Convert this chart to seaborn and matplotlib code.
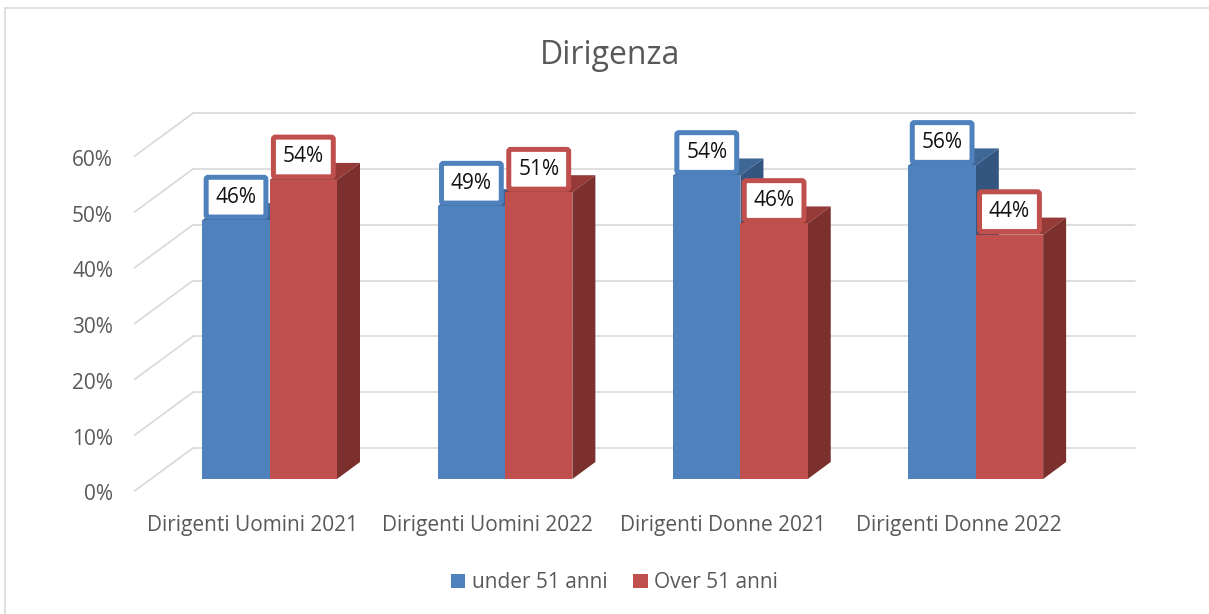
import matplotlib
matplotlib.use("Agg")
import matplotlib.pyplot as plt
import pandas as pd
import seaborn as sns
from matplotlib.lines import Line2D
from matplotlib.patches import Polygon
from matplotlib.transforms import Affine2D

categories = [
    "Dirigenti Uomini 2021",
    "Dirigenti Uomini 2022",
    "Dirigenti Donne 2021",
    "Dirigenti Donne 2022",
]
series_names = ["under 51 anni", "Over 51 anni"]
under_51 = [46.4, 48.9, 54.4, 56.2]
over_51 = [53.6, 51.4, 45.8, 43.8]
y_ticks = [0, 10, 20, 30, 40, 50, 60]

FRONT = {"under 51 anni": "#4f81bd", "Over 51 anni": "#c0504d"}
TOP = {"under 51 anni": "#3f6796", "Over 51 anni": "#953a37"}
SIDE = {"under 51 anni": "#335680", "Over 51 anni": "#7b302e"}
GRID = "#d9d9d9"
TEXT = "#595959"
W, H = 1209, 614
BAR_DX, BAR_DY = 23, 17
WALL_DX, WALL_DY = 41, 31
FLOOR_DX, FLOOR_DY = -17.5, -12


def draw_walls(ax):
    back = ax.transData + Affine2D().translate(WALL_DX, WALL_DY)
    for v in y_ticks:
        ax.plot([-0.5, 3.5], [v, v], color=GRID, lw=1.2, transform=back, clip_on=False, zorder=0.5)
        x0, y0 = ax.transData.transform((-0.5, v))
        ax.add_line(Line2D(
            [x0 + FLOOR_DX, x0 + WALL_DX], [y0 + FLOOR_DY, y0 + WALL_DY],
            color=GRID, lw=1.2, transform=None, clip_on=False, zorder=0.5,
        ))


def draw_bar_depth(ax, bar, name, order):
    x0, y0 = ax.transData.transform((bar.get_x(), 0))
    x1, y1 = ax.transData.transform((bar.get_x() + bar.get_width(), bar.get_height()))
    top = [(x0, y1), (x1, y1), (x1 + BAR_DX, y1 + BAR_DY), (x0 + BAR_DX, y1 + BAR_DY)]
    side = [(x1, y0), (x1 + BAR_DX, y0 + BAR_DY), (x1 + BAR_DX, y1 + BAR_DY), (x1, y1)]
    ax.add_patch(Polygon(top, fc=TOP[name], ec="none", transform=None, clip_on=False, zorder=order))
    ax.add_patch(Polygon(side, fc=SIDE[name], ec="none", transform=None, clip_on=False, zorder=order))
    bar.set_edgecolor("none")
    bar.set_linewidth(0)
    bar.set_zorder(order + 0.1)


def main():
    sns.set_theme(style="white")
    plt.rcParams["font.family"] = ["Open Sans", "DejaVu Sans"]

    df = pd.DataFrame({
        "category": categories * 2,
        "series": [series_names[0]] * 4 + [series_names[1]] * 4,
        "value": under_51 + over_51,
    })

    fig = plt.figure(figsize=(W / 100, H / 100), dpi=100)
    ax = fig.add_axes([152 / W, (H - 479) / H, 941.5 / W, 334.8 / H])
    ax.patch.set_alpha(0)

    sns.barplot(
        data=df, x="category", y="value", hue="series", hue_order=series_names,
        palette=FRONT, width=0.572, gap=0, saturation=1, errorbar=None, ax=ax,
    )
    ax.set_xlim(-0.5, 3.5)
    ax.set_ylim(0, 60)
    ax.set_xlabel("")
    ax.set_ylabel("")
    sns.despine(ax=ax, left=True, bottom=True)
    ax.legend_.remove()

    draw_walls(ax)

    order = 2
    for name, container in zip(series_names, ax.containers):
        for bar in container:
            draw_bar_depth(ax, bar, name, order)
            order += 1
    for name, container in zip(series_names, ax.containers):
        for bar in container:
            ax.annotate(
                f"{bar.get_height():.0f}%",
                (bar.get_x() + bar.get_width() / 2, bar.get_height()),
                xytext=(0, 16.5), textcoords="offset points",
                ha="center", va="center", fontsize=15, color="#111111", zorder=30,
                bbox=dict(boxstyle="round,pad=0.45,rounding_size=0.1", fc="white", ec=FRONT[name], lw=3.6),
            )

    ax.set_yticks(y_ticks)
    ax.set_yticklabels([f"{v}%" for v in y_ticks])
    ax.tick_params(axis="y", length=0, pad=28, labelsize=15, labelcolor=TEXT)
    ax.tick_params(axis="x", length=0, pad=26, labelsize=15, labelcolor=TEXT)
    for label in ax.get_yticklabels():
        label.set_transform(label.get_transform() + Affine2D().translate(0, FLOOR_DY - 1.5))
    for label in ax.get_xticklabels():
        label.set_transform(label.get_transform() + Affine2D().translate(FLOOR_DX, 0))

    fig.text(610 / W, 1 - 56 / H, "Dirigenza", ha="center", va="center", fontsize=23, color=TEXT)

    handles = [
        Polygon([(0, 0), (1, 0), (1, 1), (0, 1)], fc=FRONT[n], ec="none") for n in series_names
    ]
    fig.legend(
        handles, series_names, loc="center", bbox_to_anchor=(614.5 / W, 1 - 583 / H), ncol=2,
        frameon=False, fontsize=15, labelcolor=TEXT, handlelength=0.68, handleheight=0.68,
        handletextpad=0.3, columnspacing=1.25,
    )

    fig.add_artist(Line2D([5 / W, 5 / W], [0, 1 - 8 / H], color=GRID, lw=1.2))
    fig.add_artist(Line2D([5 / W, 1], [1 - 8 / H, 1 - 8 / H], color=GRID, lw=1.2))

    fig.savefig("out.png", dpi=100)
    plt.close(fig)


if __name__ == "__main__":
    main()
